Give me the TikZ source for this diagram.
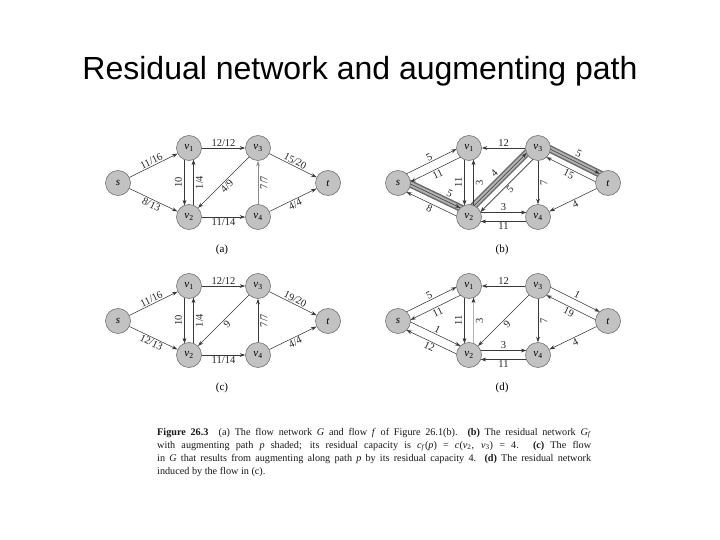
\documentclass[tikz,border=0pt]{standalone}
\usepackage{fontspec}
\setmainfont{Liberation Serif}
\newfontfamily\titlefont{Liberation Sans}
\usetikzlibrary{arrows.meta,calc,backgrounds}
\newcommand\mkpanel[4]{%
  \node[vx] (#1s)  at (#2,#3) {\textit{s}};
  \node[vx] (#1v1) at ({#2+71},{#3-35}) {\textit{v}\textsubscript{1}};
  \node[vx] (#1v3) at ({#2+140},{#3-35}) {\textit{v}\textsubscript{3}};
  \node[vx] (#1t)  at ({#2+210},{#3}) {\textit{t}};
  \node[vx] (#1v2) at ({#2+71},{#3+34}) {\textit{v}\textsubscript{2}};
  \node[vx] (#1v4) at ({#2+140},{#3+34}) {\textit{v}\textsubscript{4}};
  \node[plab] (#1lab) at ({#2+104},{#3+67}) {#4};
}
\tikzset{
  vx/.style={circle, draw=black!55, line width=0.6pt, fill=black!24, minimum size=25pt, inner sep=0pt, font=\fontsize{11}{12}\selectfont},
  ed/.style={draw=black!78, line width=0.55pt, -{Stealth[length=5.5pt,width=3.8pt]}},
  ped/.style={ed, shorten <=11.6pt, shorten >=11.6pt},
  pe/.style={to path={($(\tikztostart)!#1!90:(\tikztotarget)$) -- ($(\tikztotarget)!#1!-90:(\tikztostart)$) \tikztonodes}},
  pe/.default=4.5pt,
  el/.style={font=\fontsize{10.5}{11}\selectfont, inner sep=1.2pt, text=black!85},
  vl/.style={el, xshift=-6pt, rotate=90, anchor=center},
  vr/.style={el, xshift=6pt, rotate=90, anchor=center},
  plab/.style={font=\fontsize{11}{12}\selectfont},
  band/.style={line width=7.5pt, draw=black!58},
  bandin/.style={line width=4.5pt, draw=black!30},
  captxt/.style={font=\fontsize{10.2}{12}\selectfont, inner sep=0pt, text=black!90, anchor=base west},
}
\begin{document}
\begin{tikzpicture}[x=1pt,y=-1pt]
\useasboundingbox (0,0) rectangle (720,540);

\node[font=\titlefont\fontsize{32}{36}\selectfont, anchor=base] (title) at (360,80) {Residual network and augmenting path};

% ---------- panel (a)
\mkpanel{a}{118}{183}{(a)}
\draw[ed] (as) -- node[el, above, sloped]{11/16} (av1);
\draw[ed] (as) -- node[el, below, sloped]{8/13} (av2);
\draw[ed] (av1) -- node[el, above]{12/12} (av3);
\draw[ped] (av1) to[pe=-4.5pt] node[vl, midway]{10} (av2);
\draw[ped] (av2) to[pe=-4.5pt] node[vr, midway]{1/4} (av1);
\draw[ed] (av3) -- node[el, below, sloped]{4/9} (av2);
\draw[ed, draw=black!45] (av4) -- node[vr]{7/7} (av3);
\draw[ed] (av3) -- node[el, above, sloped]{15/20} (at);
\draw[ed] (av2) -- node[el, below]{11/14} (av4);
\draw[ed] (av4) -- node[el, below, sloped]{4/4} (at);

% ---------- panel (b)
\mkpanel{b}{398}{183}{(b)}
\begin{pgfonlayer}{background}
\fill[white] (0,0) rectangle (720,540);
\draw[band] (bs) to[pe] (bv2);
\draw[band] (bv2) to[pe] (bv3);
\draw[band] (bv3) to[pe] (bt);
\draw[bandin] (bs) to[pe] (bv2);
\draw[bandin] (bv2) to[pe] (bv3);
\draw[bandin] (bv3) to[pe] (bt);
\end{pgfonlayer}
\draw[ped] (bs) to[pe] node[el, above, sloped]{5} (bv1);
\draw[ped] (bv1) to[pe] node[el, below, sloped]{11} (bs);
\draw[ped] (bs) to[pe] node[el, above=3.5pt, sloped, pos=0.65]{5} (bv2);
\draw[ped] (bv2) to[pe] node[el, below, sloped]{8} (bs);
\draw[ed] (bv3) -- node[el, above]{12} (bv1);
\draw[ped] (bv1) to[pe=-4.5pt] node[vl, midway]{11} (bv2);
\draw[ped] (bv2) to[pe=-4.5pt] node[vr, midway]{3} (bv1);
\draw[ped] (bv2) to[pe] node[el, above=3.5pt, sloped]{4} (bv3);
\draw[ped] (bv3) to[pe] node[el, below, sloped]{5} (bv2);
\draw[ed] (bv3) -- node[vr]{7} (bv4);
\draw[ped] (bv3) to[pe] node[el, above=3.5pt, sloped]{5} (bt);
\draw[ped] (bt) to[pe] node[el, below, sloped]{15} (bv3);
\draw[ed] (bt) -- node[el, below, sloped]{4} (bv4);
\draw[ped] (bv2) to[pe] node[el, above]{3} (bv4);
\draw[ped] (bv4) to[pe] node[el, below]{11} (bv2);

% ---------- panel (c)
\mkpanel{c}{118}{321}{(c)}
\draw[ed] (cs) -- node[el, above, sloped]{11/16} (cv1);
\draw[ed] (cs) -- node[el, below, sloped]{12/13} (cv2);
\draw[ed] (cv1) -- node[el, above]{12/12} (cv3);
\draw[ped] (cv1) to[pe=-4.5pt] node[vl, midway]{10} (cv2);
\draw[ped] (cv2) to[pe=-4.5pt] node[vr, midway]{1/4} (cv1);
\draw[ed] (cv3) -- node[el, below, sloped]{9} (cv2);
\draw[ed] (cv4) -- node[vr]{7/7} (cv3);
\draw[ed] (cv3) -- node[el, above, sloped]{19/20} (ct);
\draw[ed] (cv2) -- node[el, below]{11/14} (cv4);
\draw[ed] (cv4) -- node[el, below, sloped]{4/4} (ct);

% ---------- panel (d)
\mkpanel{d}{398}{321}{(d)}
\draw[ped] (ds) to[pe] node[el, above, sloped]{5} (dv1);
\draw[ped] (dv1) to[pe] node[el, below, sloped]{11} (ds);
\draw[ped] (ds) to[pe] node[el, above, sloped]{1} (dv2);
\draw[ped] (dv2) to[pe] node[el, below, sloped]{12} (ds);
\draw[ed] (dv3) -- node[el, above]{12} (dv1);
\draw[ped] (dv1) to[pe=-4.5pt] node[vl, midway]{11} (dv2);
\draw[ped, draw=black!30, -{Stealth[length=5.5pt,width=3.8pt,color=black!80]}] (dv2) to[pe=-4.5pt] node[vr, midway]{3} (dv1);
\draw[ed] (dv3) -- node[el, below, sloped]{9} (dv2);
\draw[ed] (dv3) -- node[vr]{7} (dv4);
\draw[ped] (dv3) to[pe] node[el, above, sloped]{1} (dt);
\draw[ped] (dt) to[pe] node[el, below, sloped]{19} (dv3);
\draw[ed] (dt) -- node[el, below, sloped]{4} (dv4);
\draw[ped] (dv2) to[pe] node[el, above]{3} (dv4);
\draw[ped] (dv4) to[pe] node[el, below]{11} (dv2);

% ---------- caption
\node[captxt] (cap1) at (157,435) {\makebox[434pt][s]{\textbf{Figure 26.3}\quad (a) The flow network \textit{G} and flow \textit{f} of Figure 26.1(b). \textbf{(b)} The residual network \textit{G}\textsubscript{\textit{f}}}};
\node[captxt] (cap2) at (157,448.2) {\makebox[434pt][s]{with augmenting path \textit{p} shaded; its residual capacity is \textit{c}\textsubscript{\textit{f}}(\textit{p}) = \textit{c}(\textit{v}\textsubscript{2}, \textit{v}\textsubscript{3}) = 4. \textbf{(c)} The flow}};
\node[captxt] (cap3) at (157,461.4) {\makebox[434pt][s]{in \textit{G} that results from augmenting along path \textit{p} by its residual capacity 4. \textbf{(d)} The residual network}};
\node[captxt] (cap4) at (157,474.6) {induced by the flow in (c).};
\end{tikzpicture}
\end{document}
